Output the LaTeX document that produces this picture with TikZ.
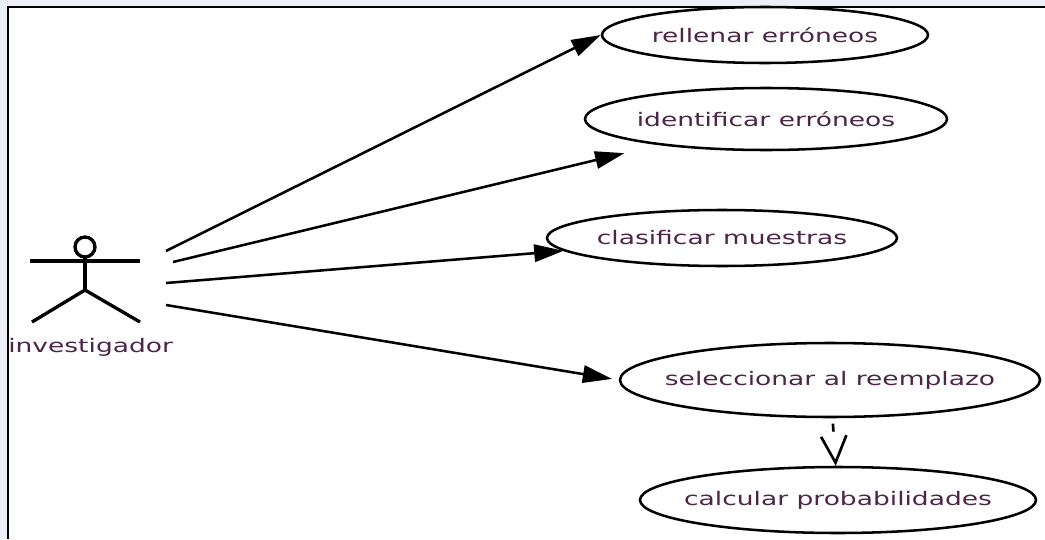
\documentclass[tikz,border=0pt]{standalone}
\usepackage{fontspec}
\usetikzlibrary{shapes.geometric,arrows.meta}
\newfontfamily\umlfont[FakeStretch=1.42]{DejaVu Sans}
\definecolor{umltext}{RGB}{76,38,70}
\definecolor{umlframe}{RGB}{236,239,248}
\tikzset{
  usecase/.style={ellipse, draw, line width=1.9pt, inner sep=0pt},
  uctext/.style={text=umltext, font=\umlfont\fontsize{14}{16}\selectfont},
  assoc/.style={line width=1.9pt, -{Triangle[length=22pt,width=13pt]}},
  depend/.style={line width=2pt, dash pattern={on 0pt off 4pt on 6pt off 30pt}, -{Straight Barb[length=20pt,width=19pt]}},
}
\begin{document}
\begin{tikzpicture}[x=0.75pt,y=0.75pt,yscale=-1,xscale=1]
\useasboundingbox (0,0) rectangle (1045,539);
\fill [umlframe] (0,0) rectangle (1045,539);
\fill [white] (8,7) rectangle (1045,539);
\draw [line width=1.5pt] (8,539) -- (8,7) -- (1045,7);
% use cases
\node [usecase, minimum width=244.5pt, minimum height=42pt, label={[uctext]center:rellenar erróneos}] (rell) at (765,35) {};
\node [usecase, minimum width=271.5pt, minimum height=46.5pt, label={[uctext]center:identificar erróneos}] (ident) at (766,119) {};
\node [usecase, minimum width=262.5pt, minimum height=42pt, label={[uctext]center:clasificar muestras}] (clas) at (722,238) {};
\node [usecase, minimum width=315pt, minimum height=55.5pt, label={[uctext]center:seleccionar al reemplazo}] (sel) at (830,380) {};
\node [usecase, minimum width=297pt, minimum height=49.5pt, label={[uctext]center:calcular probabilidades}] (cal) at (838,500) {};
% actor
\draw [line width=2.5pt] (85,247) circle [radius=7.5pt];
\draw [line width=2.5pt] (85,257) -- (85,290);
\draw [line width=2.5pt] (30,261) -- (140,261);
\draw [line width=2.5pt] (32,322) -- (85,290) -- (140,322);
\node [uctext, anchor=west, inner sep=0pt] (investigador) at (8,347) {investigador};
\coordinate (act1) at (166,251);
\coordinate (act2) at (173,262);
\coordinate (act3) at (166,283);
\coordinate (act4) at (166,305);
% associations
\draw [assoc] (act1) -- (rell.west);
\draw [assoc, shorten >=26pt] (act2) -- (ident);
\draw [assoc] (act3) -- (clas);
\draw [assoc, shorten >=5pt] (act4) -- (sel.west);
\draw [depend] (sel) -- (cal);
\end{tikzpicture}
\end{document}
